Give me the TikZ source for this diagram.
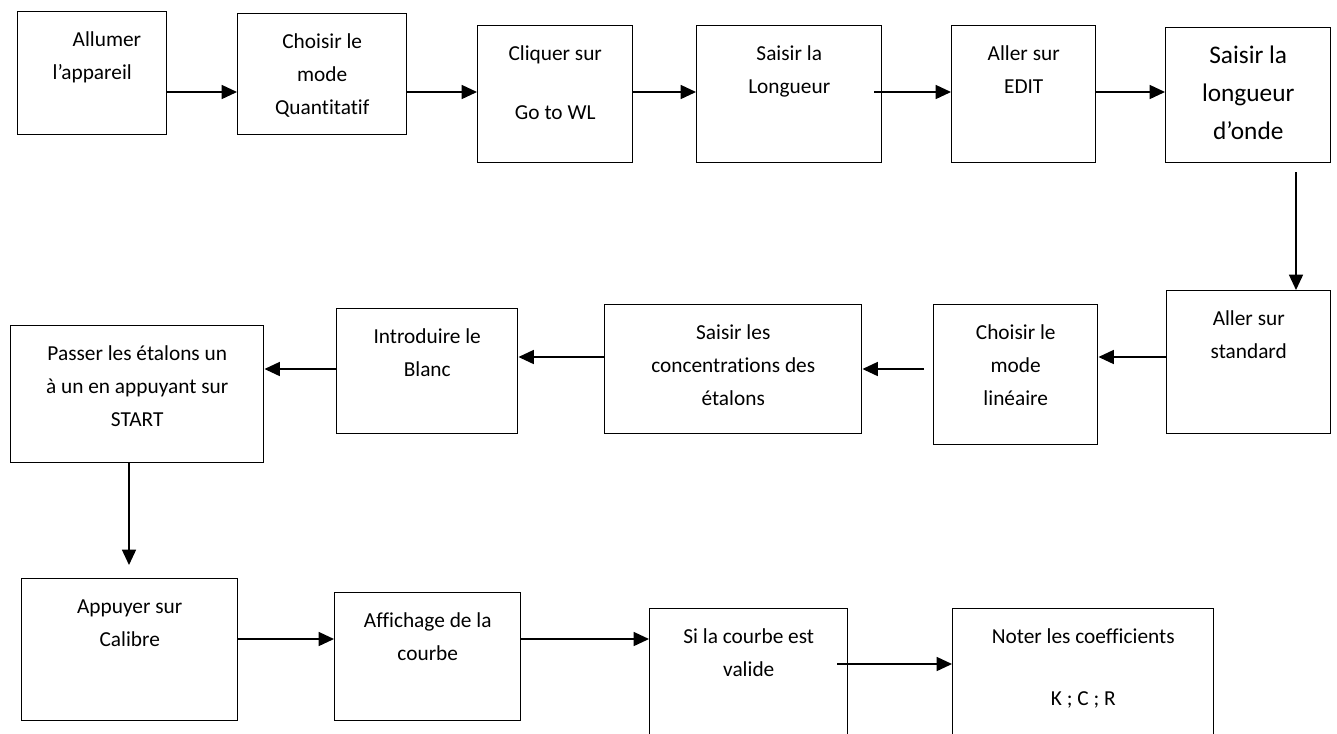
\documentclass[tikz,border=0pt]{standalone}
\usepackage{fontspec}
\setmainfont{Carlito}[Ligatures=NoCommon]
\usetikzlibrary{arrows.meta}
\tikzset{
  stepbox/.style={draw, line width=1.1pt, inner sep=0pt, anchor=north west},
  flow/.style={-{Triangle[length=11.5pt,width=10.5pt]}, line width=1.1pt}
}
\newcommand{\cell}[3]{\parbox[c][\dimexpr #2pt*3/4\relax][t]{\dimexpr #1pt*3/4\relax}{%
  \fontsize{16}{24.75}\selectfont\centering\rule{0pt}{26pt}#3}}
\newcommand{\bigcell}[3]{\parbox[c][\dimexpr #2pt*3/4\relax][t]{\dimexpr #1pt*3/4\relax}{%
  \fontsize{19}{28.5}\selectfont\centering\rule{0pt}{27pt}#3}}

\begin{document}
\begin{tikzpicture}[x=0.75pt, y=-0.75pt]
\clip (0,0) rectangle (1337,733);
% first row
\node[stepbox] (b1) at (17,11) {\cell{149}{123}{\hspace*{22pt}Allumer\\l’appareil}};
\node[stepbox] (b2) at (237,13) {\cell{169}{121}{Choisir le\\mode\\Quantitatif}};
\node[stepbox] (b3) at (477,25) {\cell{155}{137}{Cliquer sur\\[19.5pt]Go to WL}};
\node[stepbox] (b4) at (696,25) {\cell{185}{137}{Saisir la\\Longueur}};
\node[stepbox] (b5) at (951,25) {\cell{144}{137}{Aller sur\\EDIT}};
\node[stepbox] (b6) at (1165,27) {\bigcell{165}{135}{Saisir la\\longueur\\d’onde}};
% second row
\node[stepbox] (b7) at (1166,290) {\cell{164}{143}{Aller sur\\standard}};
\node[stepbox] (b8) at (933,304) {\cell{164}{140}{Choisir le\\mode\\linéaire}};
\node[stepbox] (b9) at (604,304) {\cell{257}{129}{Saisir les\\concentrations des\\étalons}};
\node[stepbox] (b10) at (336,308) {\cell{181}{125}{Introduire le\\Blanc}};
\node[stepbox] (b11) at (10,325) {\cell{253}{137}{Passer les étalons un\\à un en appuyant sur\\START}};
% third row
\node[stepbox] (b12) at (21,578) {\cell{216}{142}{Appuyer sur\\Calibre}};
\node[stepbox] (b13) at (334,592) {\cell{186}{128}{Affichage de la\\courbe}};
\node[stepbox] (b14) at (649,608) {\cell{198}{140}{Si la courbe est\\valide}};
\node[stepbox] (b15) at (952,608) {\cell{261}{140}{Noter les coefficients\\[21.75pt]K ; C ; R}};

\coordinate (r1) at (0,92);
\coordinate (r2a) at (0,357);
\coordinate (r2b) at (0,369);
\coordinate (r3) at (0,639);
\coordinate (s4) at (874,92);
\coordinate (s6) at (1296,172);
\coordinate (s8) at (924,369);
\coordinate (e11) at (129,565);
\coordinate (s14) at (837,664);

\draw[flow] (b1.east |- r1) -- (b2.west |- r1);
\draw[flow] (b2.east |- r1) -- (b3.west |- r1);
\draw[flow] (b3.east |- r1) -- (b4.west |- r1);
\draw[flow] (s4) -- (b5.west |- r1);
\draw[flow] (b5.east |- r1) -- (b6.west |- r1);
\draw[flow] (s6) -- (s6 |- b7.north);
\draw[flow] (b7.west |- r2a) -- (b8.east |- r2a);
\draw[flow] (s8) -- (b9.east |- s8);
\draw[flow] (b9.west |- r2a) -- (b10.east |- r2a);
\draw[flow] (b10.west |- r2b) -- (b11.east |- r2b);
\draw[flow] (b11.south -| e11) -- (e11);
\draw[flow] (b12.east |- r3) -- (b13.west |- r3);
\draw[flow] (b13.east |- r3) -- (b14.west |- r3);
\draw[flow] (s14) -- (b15.west |- s14);
\end{tikzpicture}
\end{document}
